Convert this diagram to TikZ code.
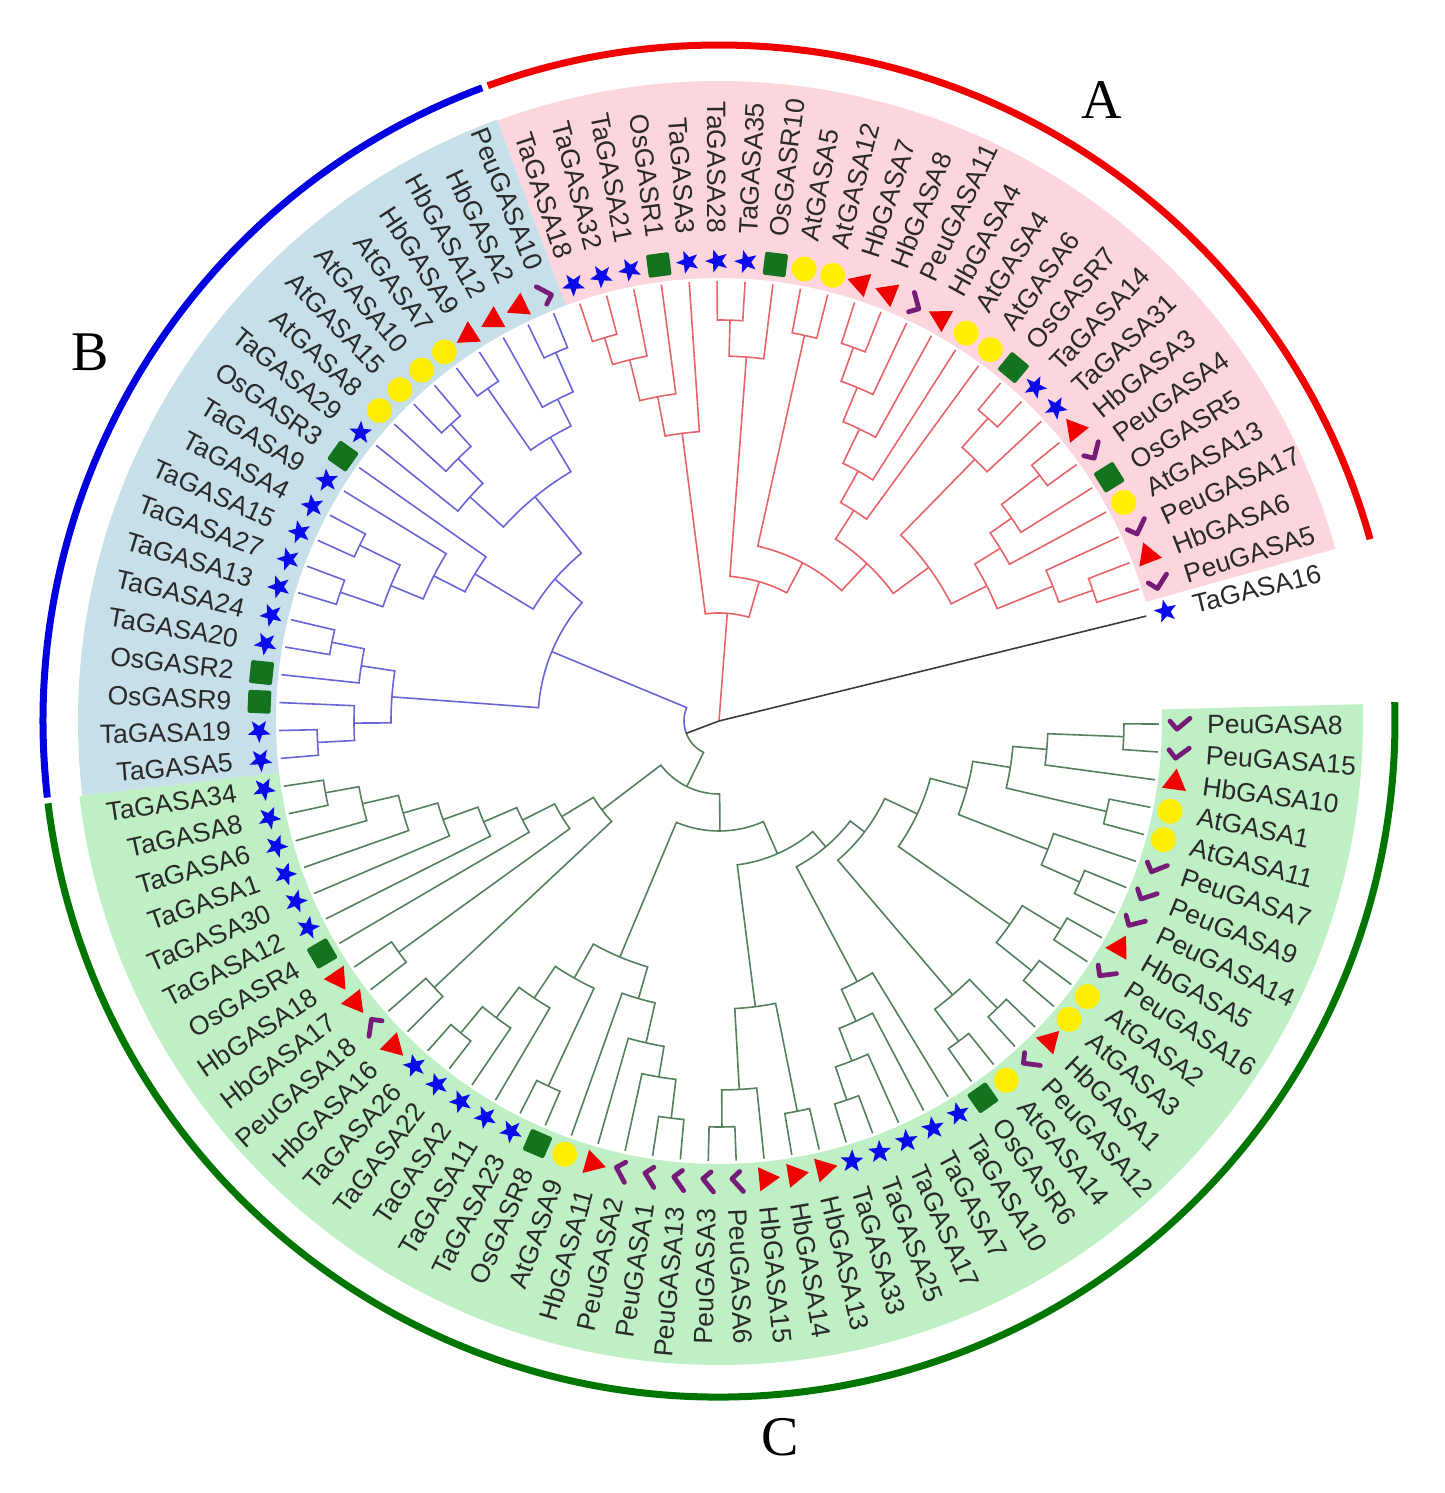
\documentclass[tikz,border=0pt]{standalone}
\usepackage{fontspec}
\setmainfont{Liberation Sans}
\newfontfamily\clfont{Liberation Serif}
\usetikzlibrary{shapes.geometric}
\definecolor{pinkbg}{RGB}{253,214,221}
\definecolor{bluebg}{RGB}{198,223,233}
\definecolor{greenbg}{RGB}{191,239,196}
\definecolor{brred}{RGB}{232,100,105}
\definecolor{brblue}{RGB}{105,100,215}
\definecolor{brgreen}{RGB}{85,128,92}
\definecolor{brblack}{RGB}{60,60,60}
\definecolor{arcred}{RGB}{240,0,0}
\definecolor{arcblue}{RGB}{0,0,225}
\definecolor{arcgreen}{RGB}{0,118,0}
\definecolor{mkblue}{RGB}{10,10,235}
\definecolor{mkgreen}{RGB}{20,115,30}
\definecolor{mkyellow}{RGB}{255,238,0}
\definecolor{mkred}{RGB}{240,0,0}
\definecolor{mkpurple}{RGB}{118,28,120}
\definecolor{labgray}{RGB}{42,42,42}
\newcommand\tA[1]{(13.8+3.64*(#1))}
\newcommand\J[5]{\draw ({\tA{#2}}:#3) -- ({\tA{#2}}:#1) arc[start angle={\tA{#2}}, end angle={\tA{#4}}, radius=#1pt] -- ({\tA{#4}}:#5);}
\newcommand\RL[3]{\draw ({\tA{#1}}:#2) -- ({\tA{#1}}:#3);}
\newcommand\mkS[2]{\node[starmk, rotate=#1] (m#2) at (#1:460) {};}
\newcommand\mkT[2]{\node[trimk, rotate=#1] (m#2) at (#1:460) {};}
\newcommand\mkC[2]{\node[circmk] (m#2) at (#1:460) {};}
\newcommand\mkQ[2]{\node[sqmk, rotate=#1] (m#2) at (#1:460) {};}
\newcommand\mkK[2]{\coordinate (m#2) at (#1:460); \draw[chkmk, shift={(m#2)}, rotate=#1] (-9,3) -- (-2,-5) -- (11,6);}
\newcommand\sector[4]{\fill[#1] (#2:443) arc[start angle=#2, end angle=#3, radius=443pt] -- (#3:#4) arc[start angle=#3, end angle=#2, radius=#4pt] -- cycle;}
\tikzset{
 starmk/.style={star, star points=5, star point ratio=2.4, fill=mkblue, draw=none, inner sep=0pt, minimum size=24pt},
 trimk/.style={regular polygon, regular polygon sides=3, fill=mkred, inner sep=0pt, minimum size=28pt},
 sqmk/.style={rectangle, fill=mkgreen, inner sep=0pt, minimum size=23pt, rounded corners=2pt},
 circmk/.style={circle, fill=mkyellow, inner sep=0pt, minimum size=25pt},
 chkmk/.style={draw=mkpurple, line width=4.8pt, line cap=round, line join=round},
 lab/.style={inner sep=0pt, text=labgray, font=\fontsize{26.5}{29}\selectfont},
 clade/.style={inner sep=0pt, text=black, font=\clfont\fontsize{56}{60}\selectfont},
 outer/.style={line width=7pt},
}
\begin{document}
\begin{tikzpicture}[x=1pt,y=1pt]
\useasboundingbox (-719,-772) rectangle (725,721);
% background sectors
\sector{pinkbg}{15.6}{110.26}{640}
\sector{bluebg}{110.26}{186.7}{641}
\sector{greenbg}{186.7}{361.5}{644}
% ---- clade A (red)
\begin{scope}[draw=brred, line width=1.6pt]
\J{400}{26}{440}{25}{440}
\J{372}{25.5}{400}{24}{440}
\J{330}{24.75}{372}{23}{440}
\J{290}{23.875}{330}{22}{440}
\J{401}{21}{440}{20}{440}
\J{365}{20.5}{401}{19}{440}
\J{395}{18}{440}{17}{440}
\J{397}{16}{440}{15}{440}
\J{361}{15.5}{397}{14}{440}
\J{324}{14.75}{361}{13}{440}
\J{286}{13.875}{324}{12}{440}
\J{250}{12.9375}{286}{11}{440}
\J{405}{10}{440}{9}{440}
\J{366}{9.5}{405}{8}{440}
\J{396}{2}{440}{1}{440}
\J{360}{1.5}{396}{3}{440}
\J{404}{7}{440}{6}{440}
\J{356}{6.5}{404}{5}{440}
\J{330}{5.75}{356}{4}{440}
\J{300}{4.875}{330}{2.25}{360}
\J{260}{8.75}{366}{3.5625}{300}
\J{216}{11.96875}{250}{6.15625}{260}
\J{179}{17.5}{395}{9.0625}{216}
\J{145}{19.75}{365}{13.28125}{179}
\J{108}{22.9375}{290}{16.515625}{145}
\RL{19.7265625}{0}{108}
\end{scope}
% ---- clade B (blue)
\begin{scope}[draw=brblue, line width=1.6pt]
\J{403}{27}{440}{28}{440}
\J{360}{27.5}{403}{29}{440}
\J{405}{30}{440}{31}{440}
\J{330}{28.25}{360}{30.5}{405}
\J{400}{32}{440}{33}{440}
\J{370}{32.5}{400}{34}{440}
\J{335}{33.25}{370}{35}{440}
\J{290}{29.375}{330}{34.125}{335}
\J{400}{38}{440}{39}{440}
\J{400}{40}{440}{41}{440}
\J{355}{38.5}{400}{40.5}{400}
\J{320}{37}{440}{39.5}{355}
\J{285}{36}{440}{38.25}{320}
\J{217}{31.75}{290}{37.125}{285}
\J{395}{42}{440}{43}{440}
\J{362}{42.5}{395}{44}{440}
\J{402}{46}{440}{47}{440}
\J{365}{45}{440}{46.5}{402}
\J{328}{43.25}{362}{45.75}{365}
\J{181}{34.4375}{217}{44.5}{328}
\J{35}{51.334}{35}{39.46875}{181}
\end{scope}
% ---- clade C (green)
\begin{scope}[draw=brgreen, line width=1.6pt]
\J{400}{48}{440}{49}{440}
\J{366}{48.5}{400}{50}{440}
\J{329}{49.25}{366}{51}{440}
\J{293}{50.125}{329}{52}{440}
\J{256}{51.0625}{293}{53}{440}
\J{220}{52.03125}{256}{54}{440}
\J{395}{55}{440}{56}{440}
\J{184}{53.015625}{220}{55.5}{395}
\J{390}{57}{440}{58}{440}
\J{147}{54.2578}{184}{57.5}{390}
\J{405}{59}{440}{60}{440}
\J{371}{59.5}{405}{61}{440}
\J{333}{60.25}{371}{62}{440}
\J{403}{63}{440}{64}{440}
\J{295}{61.125}{333}{63.5}{403}
\J{400}{68}{440}{69}{440}
\J{361}{67}{440}{68.5}{400}
\J{330}{66}{440}{67.75}{361}
\J{289}{65}{440}{66.875}{330}
\J{256}{62.3125}{295}{65.9375}{289}
\J{406}{70}{440}{71}{440}
\J{369}{70.5}{406}{72}{440}
\J{398}{73}{440}{74}{440}
\J{288}{71.25}{369}{73.5}{398}
\J{400}{75}{440}{76}{440}
\J{365}{75.5}{400}{77}{440}
\J{330}{76.25}{365}{78}{440}
\J{295}{77.125}{330}{79}{440}
\J{400}{80}{440}{81}{440}
\J{400}{82}{440}{83}{440}
\J{360}{80.5}{400}{82.5}{400}
\J{400}{84}{440}{85}{440}
\J{400}{86}{440}{87}{440}
\J{355}{84.5}{400}{86.5}{400}
\J{395}{88}{440}{89}{440}
\J{353}{88.5}{395}{90}{440}
\J{405}{94}{440}{95}{440}
\J{329}{93}{440}{94.5}{405}
\J{398}{91}{440}{92}{440}
\J{295}{91.5}{398}{93.75}{329}
\J{257}{89.25}{353}{92.625}{295}
\J{219}{85.5}{355}{90.9375}{257}
\J{183}{81.5}{360}{88.21875}{219}
\J{165}{78.0625}{295}{84.859375}{183}
\J{145}{72.375}{288}{81.4609}{165}
\J{110}{64.125}{256}{76.918}{145}
\J{73}{55.8789}{147}{70.52}{110}
\J{35}{51.334}{35}{63.199}{73}
\end{scope}
% ---- root (black)
\begin{scope}[draw=brblack, line width=1.6pt]
\RL{0}{0}{440}
\RL{51.334}{0}{35}
\end{scope}
% ---- markers and labels
\foreach \i/\n/\m in {0/TaGASA16/S,1/PeuGASA5/K,2/HbGASA6/T,3/PeuGASA17/K,4/AtGASA13/C,5/OsGASR5/Q,6/PeuGASA4/K,7/HbGASA3/T,8/TaGASA31/S,9/TaGASA14/S,10/OsGASR7/Q,11/AtGASA6/C,12/AtGASA4/C,13/HbGASA4/T,14/PeuGASA11/K,15/HbGASA8/T,16/HbGASA7/T,17/AtGASA12/C,18/AtGASA5/C,19/OsGASR10/Q,20/TaGASA35/S,21/TaGASA28/S,22/TaGASA3/S,23/OsGASR1/Q,24/TaGASA21/S,25/TaGASA32/S,26/TaGASA18/S,%
27/PeuGASA10/K,28/HbGASA2/T,29/HbGASA12/T,30/HbGASA9/T,31/AtGASA7/C,32/AtGASA10/C,33/AtGASA15/C,34/AtGASA8/C,35/TaGASA29/S,36/OsGASR3/Q,37/TaGASA9/S,38/TaGASA4/S,39/TaGASA15/S,40/TaGASA27/S,41/TaGASA13/S,42/TaGASA24/S,43/TaGASA20/S,44/OsGASR2/Q,45/OsGASR9/Q,46/TaGASA19/S,47/TaGASA5/S,%
48/TaGASA34/S,49/TaGASA8/S,50/TaGASA6/S,51/TaGASA1/S,52/TaGASA30/S,53/TaGASA12/S,54/OsGASR4/Q,55/HbGASA18/T,56/HbGASA17/T,57/PeuGASA18/K,58/HbGASA16/T,59/TaGASA26/S,60/TaGASA22/S,61/TaGASA2/S,62/TaGASA11/S,63/TaGASA23/S,64/OsGASR8/Q,65/AtGASA9/C,66/HbGASA11/T,67/PeuGASA2/K,68/PeuGASA1/K,69/PeuGASA13/K,70/PeuGASA3/K,71/PeuGASA6/K,%
72/HbGASA15/T,73/HbGASA14/T,74/HbGASA13/T,75/TaGASA33/S,76/TaGASA25/S,77/TaGASA17/S,78/TaGASA7/S,79/TaGASA10/S,80/OsGASR6/Q,81/AtGASA14/C,82/PeuGASA12/K,83/HbGASA1/T,84/AtGASA3/C,85/AtGASA2/C,86/PeuGASA16/K,87/HbGASA5/T,88/PeuGASA14/K,89/PeuGASA9/K,90/PeuGASA7/K,91/AtGASA11/C,92/AtGASA1/C,93/HbGASA10/T,94/PeuGASA15/K,95/PeuGASA8/K}{%
  \pgfmathsetmacro\a{13.8+3.64*\i}
  \csname mk\m\endcsname{\a}{\i}
  \pgfmathtruncatemacro\rt{cos(\a)>=0}
  \ifnum\rt=1
    \node[lab, anchor=west, rotate=\a] (l\i) at (\a:488) {\n};
  \else
    \pgfmathsetmacro\b{\a+180}
    \node[lab, anchor=east, rotate=\b] (l\i) at (\a:488) {\n};
  \fi
}
% outer clade arcs
\draw[outer, draw=arcred] (15.6:676) arc[start angle=15.6, end angle=110.0, radius=676pt];
\draw[outer, draw=arcblue] (110.5:676) arc[start angle=110.5, end angle=186.5, radius=676pt];
\draw[outer, draw=arcgreen] (187.0:676) arc[start angle=187.0, end angle=361.6, radius=676pt];
% clade letters
\node[clade] (cA) at (383,621) {A};
\node[clade] (cB) at (-629,369) {B};
\node[clade] (cC) at (61,-716) {C};
\end{tikzpicture}
\end{document}
